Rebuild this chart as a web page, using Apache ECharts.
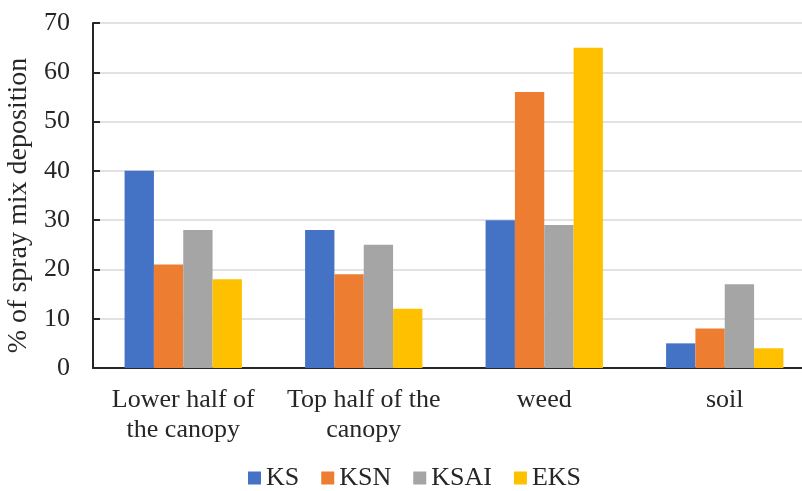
<!DOCTYPE html>
<html lang="en" style="height: 100%;margin: 0;">
<head>
    <meta charset="UTF-8">
    <title>chart</title>
</head>
<body style="height: 100%;margin: 0;background:#fff;">
<div id="chart" style="width: 802px;height: 491px;margin: 0;"></div>
<script src="https://cdn.jsdelivr.net/npm/echarts@6/dist/echarts.min.js"></script>
<script>
    var categories = ['Lower half of\nthe canopy', 'Top half of the\ncanopy', 'weed', 'soil'];
    var seriesNames = ['KS', 'KSN', 'KSAI', 'EKS'];
    var ks = [40, 28, 30, 5];
    var ksn = [21, 19, 56, 8];
    var ksai = [28, 25, 29, 17];
    var eks = [18, 12, 65, 4];
    var colors = ['#4472C4', '#ED7D31', '#A5A5A5', '#FFC000'];
    var dataList = [ks, ksn, ksai, eks];

    var font = '"Liberation Serif", "Times New Roman", serif';
    var myChart = echarts.init(document.getElementById('chart'), null, {renderer: 'canvas'});

    var series = [];
    for (var i = 0; i < dataList.length; i++) {
        series.push({
            name: seriesNames[i],
            type: 'bar',
            barGap: 0,
            barCategoryGap: '35%',
            itemStyle: {color: colors[i]},
            data: dataList[i]
        });
    }

    var option = {
        backgroundColor: '#fff',
        animation: false,
        textStyle: {fontFamily: font},
        grid: {left: 93, top: 23, width: 722, height: 345, outerBoundsMode: 'none'},
        legend: {
            data: seriesNames,
            top: 465,
            left: 248,
            padding: 0,
            itemWidth: 13,
            itemHeight: 13,
            itemGap: 22,
            icon: 'rect',
            textStyle: {fontFamily: font, fontSize: 26, color: '#262626'}
        },
        xAxis: {
            type: 'category',
            data: categories,
            axisLine: {lineStyle: {color: '#262626', width: 2}},
            axisTick: {show: false},
            axisLabel: {
                fontFamily: font, fontSize: 26, color: '#262626',
                lineHeight: 30, margin: 17, interval: 0
            }
        },
        yAxis: {
            type: 'value',
            min: 0,
            max: 70,
            interval: 10,
            name: '% of spray mix deposition',
            nameLocation: 'middle',
            nameGap: 56,
            nameTextStyle: {fontFamily: font, fontSize: 28, color: '#262626', padding: [0, 20, 0, 0]},
            axisLine: {show: true, lineStyle: {color: '#262626', width: 2}},
            axisTick: {show: true, inside: true, length: 7, lineStyle: {color: '#262626', width: 2}},
            axisLabel: {fontFamily: font, fontSize: 26, color: '#262626', margin: 23},
            splitLine: {lineStyle: {color: '#D9D9D9', width: 1.5}}
        },
        series: series
    };

    myChart.setOption(option, true);
</script>
</body>
</html>
